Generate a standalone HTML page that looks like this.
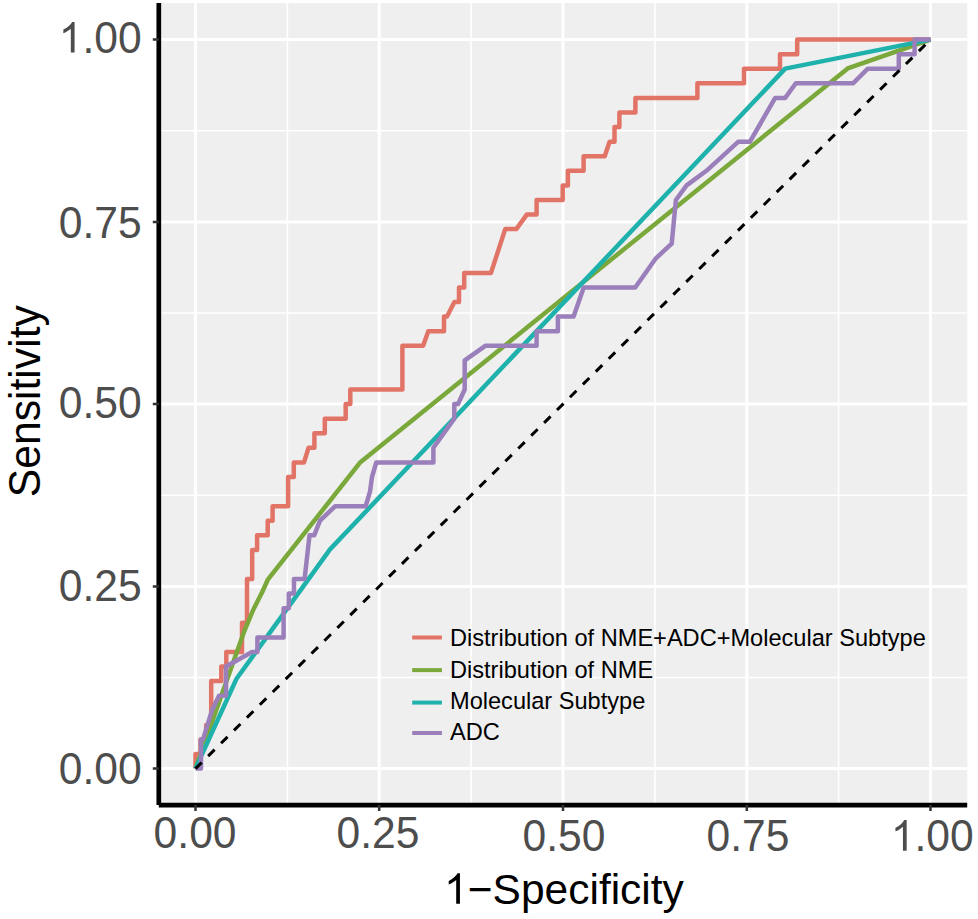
<!DOCTYPE html>
<html><head><meta charset="utf-8"><title>ROC</title>
<style>html,body{margin:0;padding:0;background:#fff;}body{width:978px;height:919px;overflow:hidden;}svg{display:block;}text{font-family:"Liberation Sans",sans-serif;}</style>
</head><body>
<svg width="978" height="919" viewBox="0 0 978 919">
<rect x="0" y="0" width="978" height="919" fill="#ffffff"/>
<rect x="158.8" y="3.1" width="808.5" height="801.9" fill="#EFEFEF"/>
<path d="M287.4 3.1 V805.1 M158.8 677.5 H967.2 M471.1 3.1 V805.1 M158.8 495.2 H967.2 M654.9 3.1 V805.1 M158.8 313 H967.2 M838.6 3.1 V805.1 M158.8 130.7 H967.2" stroke="#fff" stroke-width="1.6" fill="none"/>
<path d="M195.5 3.1 V805.1 M158.8 768.6 H967.2 M379.2 3.1 V805.1 M158.8 586.4 H967.2 M563 3.1 V805.1 M158.8 404.1 H967.2 M746.8 3.1 V805.1 M158.8 221.9 H967.2 M930.5 3.1 V805.1 M158.8 39.6 H967.2" stroke="#fff" stroke-width="3" fill="none"/>
<path d="M195.5 768.6 L195.5 754 L200.5 754 L200.5 739.4 L206.2 739.4 L206.2 724.9 L211.2 724.9 L211.2 681.1 L221.3 681.1 L221.3 666.5 L226.3 666.5 L226.3 652 L242 652 L242 622.8 L247 622.8 L247 579.1 L252.2 579.1 L252.2 549.9 L257.1 549.9 L257.1 535.3 L267.7 535.3 L267.7 520.7 L272.6 520.7 L272.6 506.2 L288.1 506.2 L288.1 477 L293.8 477 L293.8 462.4 L304 462.4 L308.5 447.8 L314.4 447.8 L314.4 433.3 L324.8 433.3 L324.8 418.7 L345.7 418.7 L345.7 404.1 L350.3 404.1 L350.3 389.5 L402.4 389.5 L402.4 345.8 L423.1 345.8 L428.3 331.2 L444 331.2 L444 316.6 L447 316.6 L454.4 302 L459 302 L459 287.5 L464.2 287.5 L464.2 272.9 L491 272.9 L505.2 229.1 L516.3 229.1 L526.8 214.6 L536.6 214.6 L536.6 200 L562.7 200 L562.7 185.4 L567.9 185.4 L567.9 170.8 L583.6 170.8 L583.6 156.2 L604.7 156.2 L609.6 141.7 L614.5 141.7 L614.5 127.1 L619.4 127.1 L619.4 112.5 L635.4 112.5 L635.4 97.9 L697.4 97.9 L697.4 83.3 L744 83.3 L744 68.8 L780 68.8 L780 54.2 L797.2 54.2 L797.2 39.6 L930.5 39.6" stroke="#E27467" stroke-width="4.5" fill="none" stroke-linejoin="round" stroke-linecap="butt"/>
<path d="M195.5 768.6 L244.4 630.8 L253.6 609 L262 592.5 L268 579.3 L360.4 462.2 L847.7 68.4 L930.5 39.6" stroke="#7AA83A" stroke-width="4.5" fill="none" stroke-linejoin="round" stroke-linecap="butt"/>
<path d="M195.5 768.6 L236.5 678.8 L330 549.4 L785.2 68.6 L930.5 39.6" stroke="#1FB1AC" stroke-width="4.5" fill="none" stroke-linejoin="round" stroke-linecap="butt"/>
<path d="M195.5 768.6 L201 768.6 L201 739.4 L203 739.4 L212 710.3 L219 695.7 L226 695.7 L226 666.5 L252 652 L257.4 652 L257.4 637.4 L283.6 637.4 L283.6 608.2 L288.8 608.2 L288.8 593.6 L294 593.6 L294 579.1 L304.6 579.1 L309.5 535.3 L314.2 535.3 L320 520.7 L335.2 506.2 L365.7 506.2 L370 491.6 L372 477 L376.3 462.4 L433.4 462.4 L433.4 447.8 L454.3 418.7 L454.3 404.1 L458 404.1 L464.7 389.5 L464.7 360.4 L485.3 345.8 L536.6 345.8 L536.6 331.2 L557.9 331.2 L557.9 316.6 L573.6 316.6 L583.7 287.5 L635.2 287.5 L655.9 258.3 L671.7 243.7 L675.9 200 L686.6 185.4 L706.4 170.8 L738.4 141.7 L750 141.7 L775.2 97.9 L785.2 97.9 L795.8 83.3 L853 83.3 L867.6 68.8 L898.8 68.8 L898.8 54.2 L914.6 54.2 L914.6 39.6 L930.5 39.6" stroke="#9A7FBB" stroke-width="4.5" fill="none" stroke-linejoin="round" stroke-linecap="butt"/>
<path d="M195.5 768.6 L930.5 39.6" stroke="#000" stroke-width="3" stroke-dasharray="9.1 9.1" stroke-dashoffset="0.4" fill="none"/>
<path d="M158.8 3.1 V805.1" stroke="#000" stroke-width="4.7" fill="none"/>
<path d="M158.8 805.1 H967.2" stroke="#000" stroke-width="4.6" fill="none"/>
<path d="M152.8 768.6 H158.8 M195.5 805.1 V811.1 M152.8 586.4 H158.8 M379.2 805.1 V811.1 M152.8 404.1 H158.8 M563 805.1 V811.1 M152.8 221.9 H158.8 M746.8 805.1 V811.1 M152.8 39.6 H158.8 M930.5 805.1 V811.1" stroke="#333" stroke-width="2.5" fill="none"/>
<g transform="translate(141.6 783.6) scale(1 1.04)"><text x="-82.9" y="0" font-size="42.6" fill="#4D4D4D">0.00</text></g>
<g transform="translate(195.1 848.2) scale(1 1.04)"><text x="-41.5" y="0" font-size="42.6" fill="#4D4D4D">0.00</text></g>
<g transform="translate(141.6 600.5) scale(1 1.04)"><text x="-82.9" y="0" font-size="42.6" fill="#4D4D4D">0.25</text></g>
<g transform="translate(378 848.3) scale(1 1.04)"><text x="-41.5" y="0" font-size="42.6" fill="#4D4D4D">0.25</text></g>
<g transform="translate(141.6 418.1) scale(1 1.04)"><text x="-82.9" y="0" font-size="42.6" fill="#4D4D4D">0.50</text></g>
<g transform="translate(564 850.7) scale(1 1.04)"><text x="-41.5" y="0" font-size="42.6" fill="#4D4D4D">0.50</text></g>
<g transform="translate(141.6 238.1) scale(1 1.04)"><text x="-82.9" y="0" font-size="42.6" fill="#4D4D4D">0.75</text></g>
<g transform="translate(748 850.7) scale(1 1.04)"><text x="-41.5" y="0" font-size="42.6" fill="#4D4D4D">0.75</text></g>
<g transform="translate(141.6 52.5) scale(1 1.04)"><path transform="translate(-82.9 0) scale(0.02080 -0.02000)" d="M763 0L583 0L583 1147Q518 1085 412 1023Q307 961 223 930L223 1104Q374 1175 487 1276Q600 1377 647 1472L763 1472Z" fill="#4D4D4D"/><text x="-59.2" y="0" font-size="42.6" fill="#4D4D4D">.00</text></g>
<g transform="translate(932.3 850.7) scale(1 1.04)"><path transform="translate(-41.5 0) scale(0.02080 -0.02000)" d="M763 0L583 0L583 1147Q518 1085 412 1023Q307 961 223 930L223 1104Q374 1175 487 1276Q600 1377 647 1472L763 1472Z" fill="#4D4D4D"/><text x="-17.8" y="0" font-size="42.6" fill="#4D4D4D">.00</text></g>
<g transform="translate(564 903.8) scale(1 1.02)"><path transform="translate(-119.9 0) scale(0.02075 -0.02035)" d="M763 0L583 0L583 1147Q518 1085 412 1023Q307 961 223 930L223 1104Q374 1175 487 1276Q600 1377 647 1472L763 1472Z" fill="#000"/><text x="-96.2" y="0" font-size="42.5" fill="#000">&#8722;Specificity</text></g>
<g transform="translate(40.3 401.2) rotate(-90) scale(1 1.02)"><text x="-96.1" y="0" font-size="42.7" fill="#000">Sensitivity</text></g>
<path d="M412.2 637.5 H441.9" stroke="#E27467" stroke-width="4" fill="none"/>
<g transform="translate(450 646.4) scale(1 1.03)"><text x="0" y="0" font-size="23.6" fill="#000">Distribution of NME+ADC+Molecular Subtype</text></g>
<path d="M412.2 670.1 H441.9" stroke="#7AA83A" stroke-width="4" fill="none"/>
<g transform="translate(450 677.5) scale(1 1.03)"><text x="0" y="0" font-size="23.6" fill="#000">Distribution of NME</text></g>
<path d="M412.2 702.6 H441.9" stroke="#1FB1AC" stroke-width="4" fill="none"/>
<g transform="translate(450 708.7) scale(1 1.03)"><text x="0" y="0" font-size="23.6" fill="#000">Molecular Subtype</text></g>
<path d="M412.2 733 H441.9" stroke="#9A7FBB" stroke-width="4" fill="none"/>
<g transform="translate(450 739.8) scale(1 1.03)"><text x="0" y="0" font-size="23.6" fill="#000">ADC</text></g>
</svg></body></html>
